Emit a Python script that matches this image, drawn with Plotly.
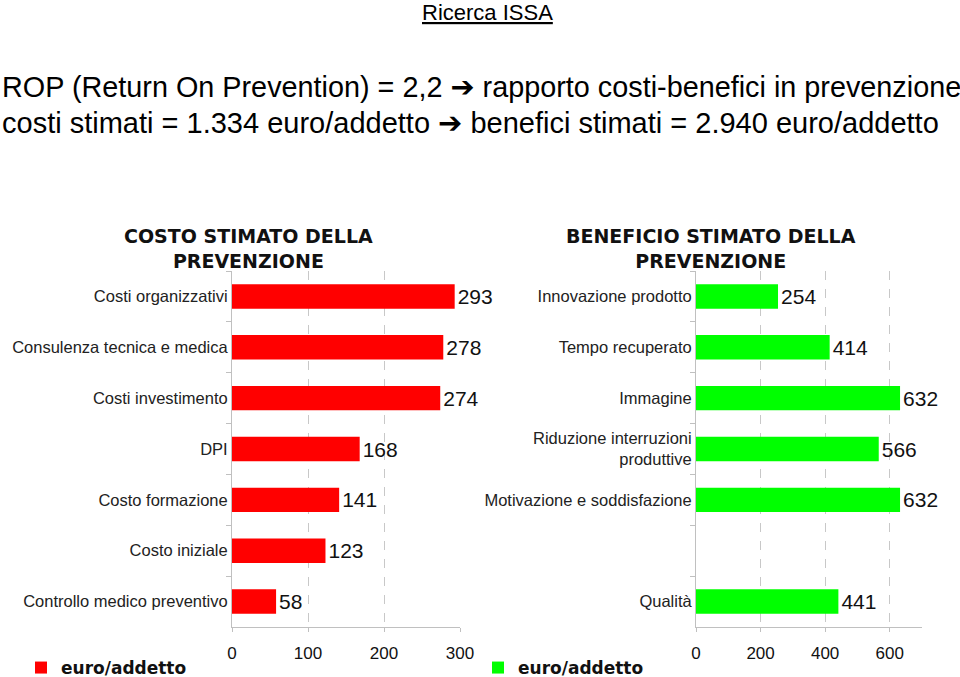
import plotly.graph_objects as go

# ---- data ----
cost_categories = ["Costi organizzativi", "Consulenza tecnica e medica", "Costi investimento",
                   "DPI", "Costo formazione", "Costo iniziale", "Controllo medico preventivo"]
cost_values = [293, 278, 274, 168, 141, 123, 58]

benefit_categories = ["Innovazione prodotto", "Tempo recuperato", "Immagine",
                      "Riduzione interruzioni<br>produttive", "Motivazione e soddisfazione",
                      " ", "Qualità"]
benefit_values = [254, 414, 632, 566, 632, None, 441]

cost_ticks = [0, 100, 200, 300]
benefit_ticks = [0, 200, 400, 600]

series_name = "euro/addetto"

W, H = 960, 677
def px(x):
    return x / W
def py(y):
    return 1 - y / H

FONT = "Liberation Sans, Arial, sans-serif"
BOLDFONT = "DejaVu Sans, Liberation Sans, sans-serif"

fig = go.Figure()

fig.add_trace(go.Bar(
    x=cost_values, y=cost_categories, orientation="h",
    marker=dict(color="#FF0000", line=dict(width=0)),
    width=0.48, name="<b>" + series_name + "</b>",
    text=cost_values, textposition="outside", texttemplate="%{x}",
    textfont=dict(size=21, color="#111111", family=FONT),
    constraintext="none", cliponaxis=False,
    xaxis="x", yaxis="y", legend="legend",
))

fig.add_trace(go.Bar(
    x=benefit_values, y=benefit_categories, orientation="h",
    marker=dict(color="#00FF00", line=dict(width=0)),
    width=0.48, name="<b>" + series_name + "</b>",
    text=benefit_values, textposition="outside", texttemplate="%{x}",
    textfont=dict(size=21, color="#111111", family=FONT),
    constraintext="none", cliponaxis=False,
    xaxis="x2", yaxis="y2", legend="legend2",
))

ydom = [py(627), py(271)]
axis_common_x = dict(
    showgrid=True, griddash="dash", gridcolor="#c8c8c8", gridwidth=1,
    showline=True, linecolor="#c0c0c0", linewidth=1,
    ticks="outside", ticklen=4, tickcolor="#c0c0c0",
    tickfont=dict(size=17, color="#111111", family=FONT),
    ticklabelstandoff=7, zeroline=False, fixedrange=True, automargin=False,
)
axis_common_y = dict(
    type="category", autorange="reversed",
    showline=True, linecolor="#c0c0c0", linewidth=1,
    ticks="outside", ticklen=5, tickcolor="#c0c0c0", tickson="boundaries",
    showgrid=False,
    tickfont=dict(size=16.5, color="#222222", family=FONT),
    fixedrange=True, automargin=False,
)

legend_common = dict(
    xref="container", yref="container", xanchor="left", yanchor="middle",
    font=dict(size=17, family=BOLDFONT, color="#111111"),
    bgcolor="rgba(0,0,0,0)", itemwidth=30, tracegroupgap=0,
)

fig.update_layout(
    width=W, height=H,
    margin=dict(l=0, r=0, t=0, b=0, autoexpand=False),
    paper_bgcolor="white", plot_bgcolor="white",
    font=dict(family=FONT, color="#111111"),
    xaxis=dict(domain=[px(232), px(460)], range=[0, 300], tickvals=cost_ticks, anchor="y", **axis_common_x),
    yaxis=dict(domain=ydom, anchor="x", **axis_common_y),
    xaxis2=dict(domain=[px(696), px(922)], range=[0, 700], tickvals=benefit_ticks, anchor="y2", **axis_common_x),
    yaxis2=dict(domain=ydom, anchor="x2", **axis_common_y),
    legend=dict(x=px(21), y=py(668), **legend_common),
    legend2=dict(x=px(478), y=py(668), **legend_common),
    showlegend=True,
)

ARROW = '<span style="font-family:DejaVu Sans"><b>\u2794</b></span>'
annotations = [
    dict(text="<u>Ricerca ISSA</u>", x=px(487), y=py(12), xanchor="center", yanchor="middle",
         font=dict(size=22, family=FONT, color="#000000")),
    dict(text="ROP (Return On Prevention) = 2,2 " + ARROW + " rapporto costi-benefici in prevenzione",
         x=0, y=py(87), xanchor="left", yanchor="middle", align="left",
         font=dict(size=28.8, family=FONT, color="#000000")),
    dict(text="costi stimati = 1.334 euro/addetto " + ARROW + " benefici stimati = 2.940 euro/addetto",
         x=0, y=py(123), xanchor="left", yanchor="middle", align="left",
         font=dict(size=29, family=FONT, color="#000000")),
    dict(text="<b>COSTO STIMATO DELLA<br>PREVENZIONE</b>", x=px(248), y=py(249),
         xanchor="center", yanchor="middle", align="center",
         font=dict(size=19, family=BOLDFONT, color="#111111")),
    dict(text="<b>BENEFICIO STIMATO DELLA<br>PREVENZIONE</b>", x=px(711), y=py(249),
         xanchor="center", yanchor="middle", align="center",
         font=dict(size=19, family=BOLDFONT, color="#111111")),
]
for a in annotations:
    a.update(xref="paper", yref="paper", showarrow=False)
fig.update_layout(annotations=annotations)

fig.write_html("out.html",
               config={"displayModeBar": False},
               post_script="document.body.style.margin='0';document.body.style.overflow='hidden';")
